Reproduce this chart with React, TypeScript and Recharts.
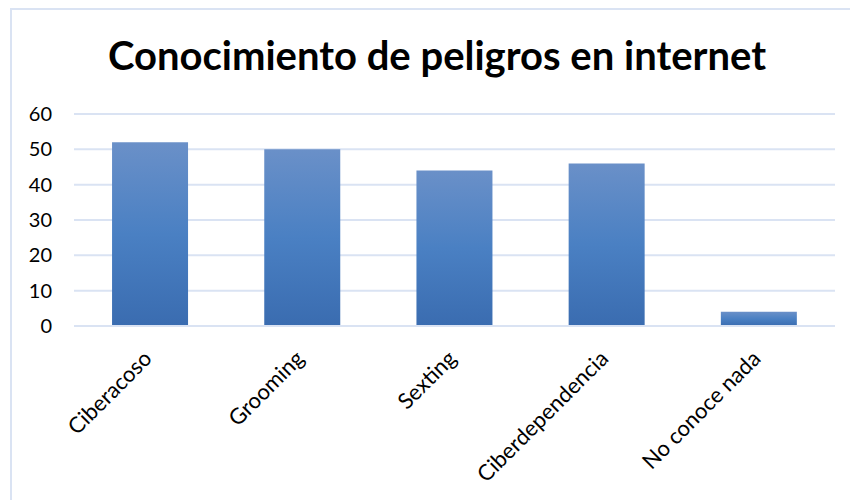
import React from 'react';
import { BarChart, Bar, XAxis, YAxis, CartesianGrid } from 'recharts';

const categories = ['Ciberacoso', 'Grooming', 'Sexting', 'Ciberdependencia', 'No conoce nada'];
const values = [52, 50, 44, 46, 4];
const yTicks = [0, 10, 20, 30, 40, 50, 60];
const title = 'Conocimiento de peligros en internet';

const data = categories.map((c, i) => ({ name: c, value: values[i] }));

const FONT = 'Lato, "Open Sans", sans-serif';

const XTick = (props: any) => {
  const { x, y, payload } = props;
  const ax = x + 3;
  const ay = y + 26;
  return (
    <text
      x={ax}
      y={ay}
      transform={`rotate(-45, ${ax}, ${ay})`}
      textAnchor="end"
      fontFamily={FONT}
      fontSize={22}
      fill="#000"
    >
      {payload.value}
    </text>
  );
};

export default function App() {
  return (
    <div style={{ position: 'absolute', left: 0, top: 0, width: 850, height: 500, overflow: 'hidden', background: '#fff' }}>
      <style>{`body{margin:0;overflow:hidden}`}</style>
      <div
        style={{
          position: 'absolute',
          left: 10,
          top: 8,
          width: 840,
          height: 492,
          borderTop: '2px solid #dae3f3',
          borderLeft: '2px solid #dae3f3',
          boxSizing: 'border-box',
        }}
      />
      <div style={{ position: 'absolute', left: 0, top: 0 }}>
        <BarChart
          width={850}
          height={500}
          data={data}
          margin={{ top: 114, right: 15, bottom: 0, left: 0 }}
          barCategoryGap="25%"
        >
          <defs>
            <linearGradient id="barGrad" x1="0" y1="0" x2="0" y2="1">
              <stop offset="0%" stopColor="#6a90c8" />
              <stop offset="50%" stopColor="#4a80c3" />
              <stop offset="100%" stopColor="#3a6cb0" />
            </linearGradient>
          </defs>
          <text
            x={437}
            y={70}
            textAnchor="middle"
            fontFamily={FONT}
            fontWeight="bold"
            fontSize={40}
            fill="#000"
          >
            {title}
          </text>
          <CartesianGrid vertical={false} stroke="#dae3f3" strokeWidth={2} />
          <XAxis
            dataKey="name"
            height={174}
            interval={0}
            tickLine={false}
            axisLine={{ stroke: '#dae3f3', strokeWidth: 2 }}
            tick={<XTick />}
          />
          <YAxis
            width={74}
            domain={[0, 60]}
            ticks={yTicks}
            tickLine={false}
            axisLine={false}
            tickSize={0}
            tickMargin={22}
            tick={{ fontFamily: FONT, fontSize: 20, fill: '#000' }}
          />
          <Bar dataKey="value" fill="url(#barGrad)" isAnimationActive={false} />
        </BarChart>
      </div>
    </div>
  );
}
